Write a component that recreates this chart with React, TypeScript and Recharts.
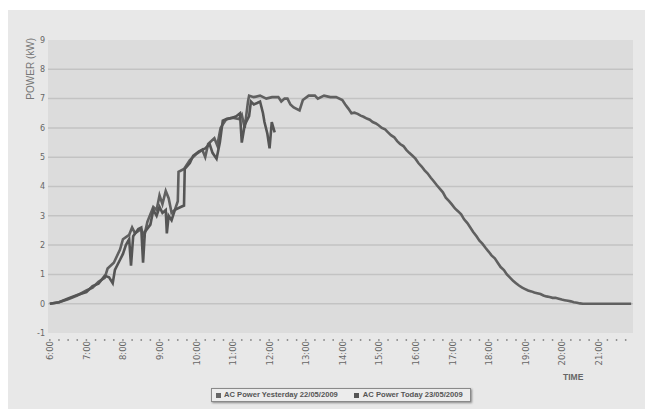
import React from 'react';
import { LineChart, Line, XAxis, YAxis, CartesianGrid } from 'recharts';

// time of day in decimal hours, power in kW
const yesterdayTimes = [
  6.0, 6.25, 6.5, 6.75, 7.0, 7.17, 7.33, 7.5, 7.58, 7.75, 7.92, 8.0, 8.17, 8.25, 8.33, 8.5, 8.58, 8.67, 8.83,
  8.92, 9.0, 9.08, 9.17, 9.25, 9.33, 9.42, 9.5, 9.52, 9.67, 9.83, 10.0, 10.17, 10.25, 10.33, 10.5, 10.58,
  10.67, 10.83, 11.0, 11.17, 11.25, 11.33, 11.42, 11.45, 11.58, 11.75, 11.92, 12.08, 12.25, 12.33, 12.42,
  12.5, 12.58, 12.67, 12.83, 12.92, 13.08, 13.25, 13.33, 13.5, 13.67, 13.83,
  14.0, 14.08, 14.17, 14.25, 14.33, 14.42, 14.5, 14.58, 14.67, 14.75, 14.83, 14.92,
  15.0, 15.08, 15.17, 15.25, 15.33, 15.42, 15.5, 15.58, 15.67, 15.75, 15.83, 15.92,
  16.0, 16.08, 16.17, 16.25, 16.33, 16.42, 16.5, 16.58, 16.67, 16.75, 16.83, 16.92,
  17.0, 17.08, 17.17, 17.25, 17.33, 17.42, 17.5, 17.58, 17.67, 17.75, 17.83, 17.92,
  18.0, 18.08, 18.17, 18.25, 18.33, 18.42, 18.5, 18.58, 18.67, 18.75, 18.83, 18.92,
  19.0, 19.08, 19.17, 19.25, 19.33, 19.42, 19.5, 19.58, 19.67, 19.75, 19.83, 19.92,
  20.0, 20.08, 20.17, 20.25, 20.33, 20.42, 20.5, 20.58, 21.9,
];
const yesterdayPower = [
  0.0, 0.05, 0.15, 0.28, 0.45, 0.55, 0.75, 0.88, 1.2, 1.4, 1.85, 2.2, 2.35, 2.6, 2.4, 2.55, 2.3, 2.8, 3.3,
  3.2, 3.7, 3.4, 3.85, 3.6, 3.1, 3.2, 3.5, 4.5, 4.6, 4.9, 5.1, 5.25, 5.0, 5.45, 5.65, 5.4,
  6.0, 6.3, 6.35, 6.3, 6.45, 6.0, 6.9, 7.1, 7.05, 7.1, 7.0, 7.05, 7.05, 6.9, 7.0,
  7.0, 6.8, 6.7, 6.6, 6.95, 7.1, 7.1, 7.0, 7.1, 7.05, 7.05,
  6.95, 6.8, 6.65, 6.5, 6.52, 6.48, 6.42, 6.38, 6.32, 6.28, 6.2, 6.15,
  6.08, 6.0, 5.95, 5.85, 5.75, 5.68, 5.55, 5.45, 5.38, 5.25, 5.15, 5.05,
  4.95, 4.8, 4.68, 4.55, 4.45, 4.3, 4.18, 4.05, 3.92, 3.8, 3.62, 3.5,
  3.38, 3.25, 3.15, 3.05, 2.88, 2.75, 2.6, 2.45, 2.3, 2.15, 2.05, 1.9,
  1.78, 1.65, 1.55, 1.4, 1.25, 1.15, 1.0, 0.9, 0.78, 0.7, 0.62, 0.55,
  0.5, 0.45, 0.42, 0.38, 0.36, 0.33, 0.28, 0.25, 0.23, 0.2, 0.2, 0.17,
  0.14, 0.12, 0.1, 0.08, 0.05, 0.03, 0.01, 0.0, 0.0,
];

const todayTimes = [
  6.0, 6.25, 6.5, 6.75, 7.0, 7.17, 7.33, 7.5, 7.62, 7.72, 7.78, 7.92, 8.0, 8.08, 8.17, 8.22, 8.28, 8.42, 8.5,
  8.55, 8.6, 8.75, 8.83, 8.92, 9.0, 9.08, 9.17, 9.2, 9.25, 9.33, 9.42, 9.58, 9.67, 9.69, 9.83, 9.92, 10.08,
  10.25, 10.37, 10.45, 10.56, 10.65, 10.73, 10.83, 11.0, 11.1, 11.2, 11.25, 11.33, 11.45, 11.5, 11.58,
  11.67, 11.75, 11.83, 11.87, 11.95, 12.01, 12.07, 12.15,
];
const todayPower = [
  0.0, 0.05, 0.18, 0.3, 0.4, 0.6, 0.68, 0.95, 0.9, 0.7, 1.15, 1.5, 1.7, 2.0, 2.2, 1.3, 2.3, 2.55, 2.6,
  1.4, 2.45, 2.7, 3.2, 3.0, 3.3, 3.1, 3.2, 2.4, 3.0, 2.85, 3.2, 3.3, 3.35, 4.6, 4.8, 5.05, 5.2,
  5.3, 5.45, 5.15, 4.95, 5.5, 6.25, 6.3, 6.35, 6.4, 6.5, 5.5, 6.1, 6.4, 6.9, 6.8,
  6.85, 6.9, 6.5, 6.2, 5.8, 5.3, 6.2, 5.85,
];

const hours = [6, 7, 8, 9, 10, 11, 12, 13, 14, 15, 16, 17, 18, 19, 20, 21];
const powerTicks = [-1, 0, 1, 2, 3, 4, 5, 6, 7, 8, 9];
const gridValues = [0, 1, 2, 3, 4, 5, 6, 7, 8];

const yesterdayLabel = 'AC Power Yesterday 22/05/2009';
const todayLabel = 'AC Power Today 23/05/2009';

const yesterdayData = yesterdayTimes.map((t, i) => ({ t, v: yesterdayPower[i] }));
const todayData = todayTimes.map((t, i) => ({ t, v: todayPower[i] }));
const quarterTicks = hours.flatMap((h) => [h, h + 0.25, h + 0.5, h + 0.75]);

const TimeTick = (props: any) => {
  const { x, y, payload } = props;
  const t = payload.value;
  const isHour = Math.abs(t - Math.round(t)) < 0.001;
  const ax = x + 3.5;
  const ay = y + 6;
  return (
    <g>
      <circle cx={x} cy={y + 5} r={0.9} fill="#8a8a8a" />
      {isHour && (
        <text
          x={ax}
          y={ay}
          transform={`rotate(-90 ${ax} ${ay})`}
          textAnchor="end"
          fontSize={8.5}
          fontFamily="DejaVu Sans"
          fill="#666"
        >
          {`${Math.round(t)}:00`}
        </text>
      )}
    </g>
  );
};

export default function App() {
  return (
    <div style={{ position: 'relative', top: 2, width: 637, height: 401, background: '#e8e8e8' }}>
      <LineChart width={637} height={390} data={yesterdayData} margin={{ top: 30, right: 12, left: 0, bottom: 0 }}>
        <CartesianGrid vertical={false} fill="#dcdcdc" stroke="#c3c3c3" strokeWidth={1.5} horizontalValues={gridValues} />
        <XAxis
          dataKey="t"
          type="number"
          domain={[5.95, 21.95]}
          ticks={quarterTicks}
          interval={0}
          height={67}
          axisLine={false}
          tickLine={false}
          tickSize={0}
          tick={<TimeTick />}
          allowDataOverflow
        />
        <YAxis
          domain={[-1, 9]}
          ticks={powerTicks}
          interval={0}
          width={40}
          axisLine={false}
          tickLine={false}
          tickSize={0}
          tickMargin={3}
          tick={{ fontSize: 8, fill: '#666', fontFamily: 'DejaVu Sans' }}
        />
        <Line
          data={yesterdayData}
          dataKey="v"
          type="linear"
          stroke="#606060"
          strokeWidth={2.6}
          dot={false}
          isAnimationActive={false}
        />
        <Line
          data={todayData}
          dataKey="v"
          type="linear"
          stroke="#555"
          strokeWidth={2.6}
          dot={false}
          isAnimationActive={false}
        />
        <text
          x={26}
          y={28}
          transform="rotate(-90 26 28)"
          textAnchor="end"
          fontSize={10}
          fontFamily="Liberation Sans"
          fill="#777"
        >
          POWER (kW)
        </text>
        <text x={555} y={370} fontSize={8.5} fontWeight="bold" fontFamily="Liberation Sans" fill="#666">
          TIME
        </text>
      </LineChart>
      <div
        style={{
          position: 'absolute',
          left: 203,
          top: 378,
          width: 260,
          height: 14,
          boxSizing: 'border-box',
          border: '1px solid #8a8a8a',
          background: '#ececec',
          boxShadow: '1px 1px 2px #888',
          display: 'flex',
          alignItems: 'center',
          fontFamily: 'Liberation Sans',
          fontWeight: 'bold',
          fontSize: 7.6,
          lineHeight: '12px',
          color: '#555',
          whiteSpace: 'nowrap',
        }}
      >
        <span style={{ display: 'inline-block', width: 5, height: 5, background: '#666', marginLeft: 4, marginRight: 3 }} />
        <span>{yesterdayLabel}</span>
        <span style={{ display: 'inline-block', width: 5, height: 5, background: '#555', marginLeft: 16, marginRight: 4 }} />
        <span>{todayLabel}</span>
      </div>
    </div>
  );
}
